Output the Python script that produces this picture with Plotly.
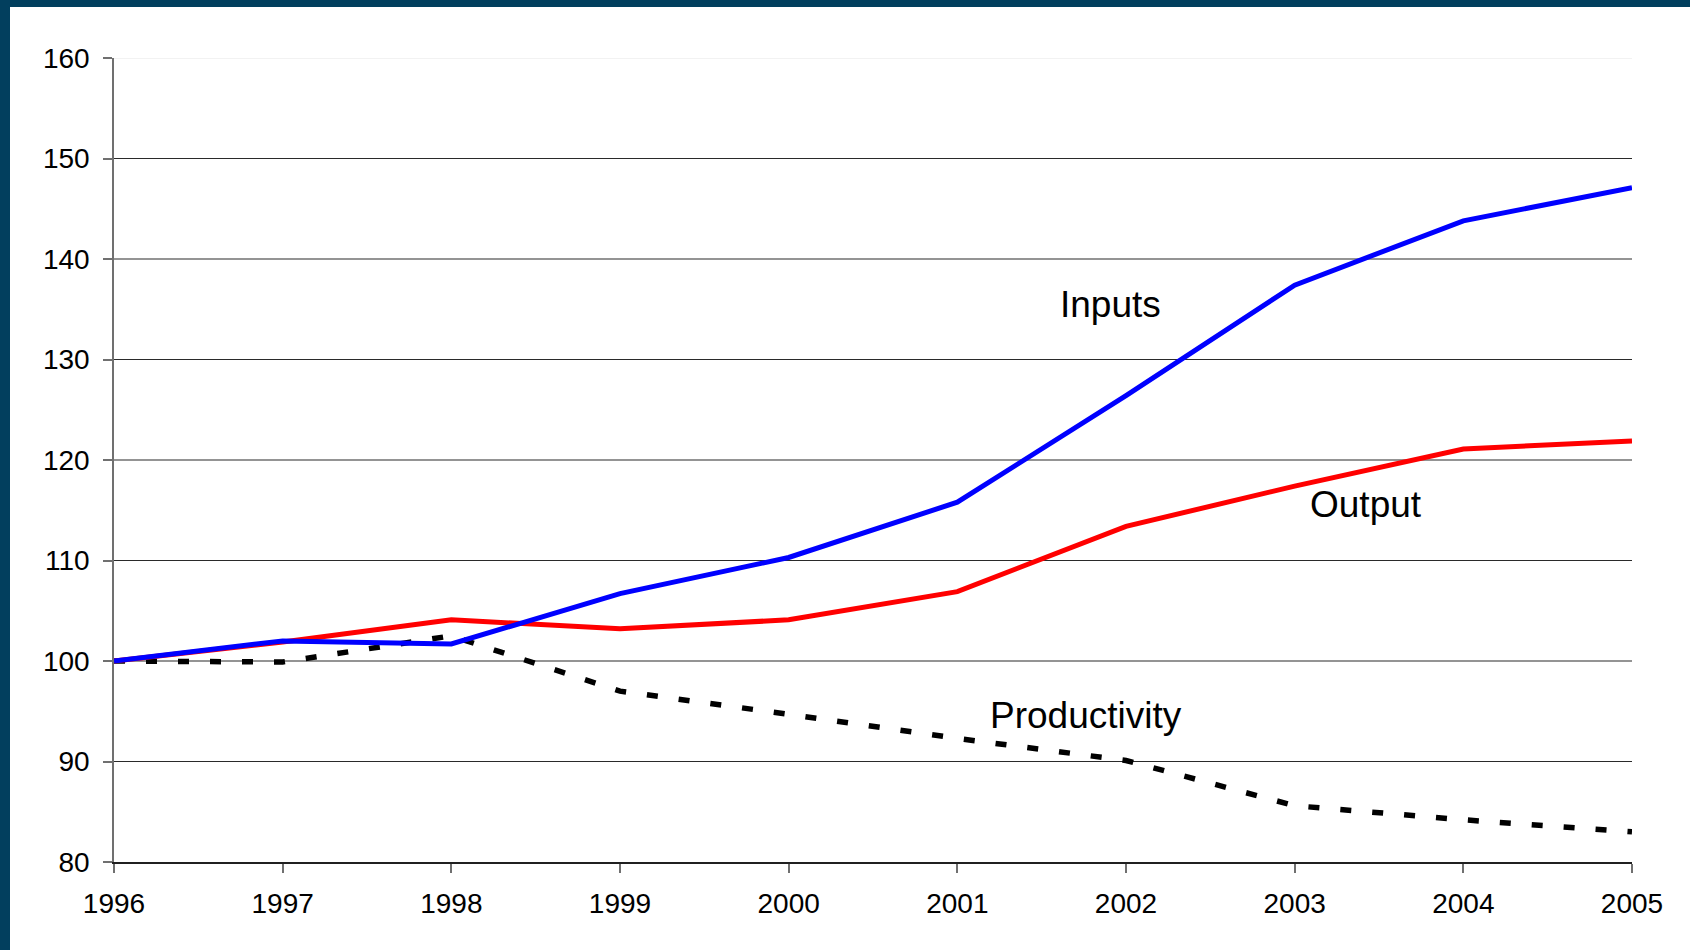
import plotly.graph_objects as go

years = [1996, 1997, 1998, 1999, 2000, 2001, 2002, 2003, 2004, 2005]
inputs = [100.0, 102.0, 101.7, 106.7, 110.3, 115.8, 126.4, 137.4, 143.8, 147.1]
output = [100.0, 101.9, 104.1, 103.2, 104.1, 106.9, 113.4, 117.4, 121.1, 121.9]
productivity = [100.0, 99.9, 102.5, 97.0, 94.7, 92.3, 90.1, 85.6, 84.2, 83.0]

y_ticks = [80, 90, 100, 110, 120, 130, 140, 150, 160]
dark_grid = [90, 100, 110, 120, 130, 140, 150]
light_grid = [160]

labels = ["Inputs", "Output", "Productivity"]
label_x = [2001.91, 2003.42, 2001.76]
label_y = [135.5, 115.6, 94.6]

FONT = "Arial, Liberation Sans, sans-serif"
FRAME = "#023F5E"

fig = go.Figure()
fig.add_trace(go.Scatter(x=years, y=productivity, mode="lines",
                         line=dict(color="black", width=5.5, dash="11px,21px"),
                         name="Productivity"))
fig.add_trace(go.Scatter(x=years, y=output, mode="lines",
                         line=dict(color="#FF0000", width=5), name="Output"))
fig.add_trace(go.Scatter(x=years, y=inputs, mode="lines",
                         line=dict(color="#0000FF", width=5), name="Inputs"))

shapes = []
for g in dark_grid:
    shapes.append(dict(type="line", xref="paper", yref="y", x0=0, x1=1, y0=g, y1=g,
                       line=dict(color="#2a2a2a", width=1.2), layer="below"))
for g in light_grid:
    shapes.append(dict(type="line", xref="paper", yref="y", x0=0, x1=1, y0=g, y1=g,
                       line=dict(color="#e6e6e6", width=1.2), layer="below"))
# frame strips (left and top)
shapes.append(dict(type="rect", xref="paper", yref="paper", xanchor=0, xsizemode="pixel",
                   x0=-120, x1=-104, y0=-1, y1=2, fillcolor=FRAME, line=dict(width=0)))
shapes.append(dict(type="rect", xref="paper", yref="paper", yanchor=1, ysizemode="pixel",
                   x0=-1, x1=2, y0=51, y1=70, fillcolor=FRAME, line=dict(width=0)))

annotations = [dict(x=lx, y=ly, text=t, showarrow=False, xref="x", yref="y",
                    font=dict(size=37, color="black", family=FONT),
                    xanchor="center", yanchor="middle")
               for t, lx, ly in zip(labels, label_x, label_y)]

fig.update_layout(
    width=1690, height=950,
    margin=dict(l=114, r=58, t=58, b=88),
    paper_bgcolor="white", plot_bgcolor="white",
    showlegend=False,
    font=dict(family=FONT, color="black", size=28),
    shapes=shapes,
    annotations=annotations,
    xaxis=dict(range=[1996, 2005], tickvals=years, ticktext=[str(y) for y in years],
               showgrid=False, zeroline=False, showline=True, linecolor="#202020", linewidth=1.5,
               ticks="outside", ticklen=9, tickcolor="#707070", tickwidth=1.5,
               tickfont=dict(size=28, color="black"), ticklabelstandoff=7),
    yaxis=dict(range=[80, 160], tickvals=y_ticks, showgrid=False, zeroline=False,
               showline=True, linecolor="#707070", linewidth=1.5,
               ticks="outside", ticklen=9, tickcolor="#707070", tickwidth=1.5,
               tickfont=dict(size=28, color="black"), ticklabelstandoff=8),
)

fig.write_html("out.html", config={"displayModeBar": False},
               post_script="document.body.style.margin='0';document.body.style.overflow='hidden';")
